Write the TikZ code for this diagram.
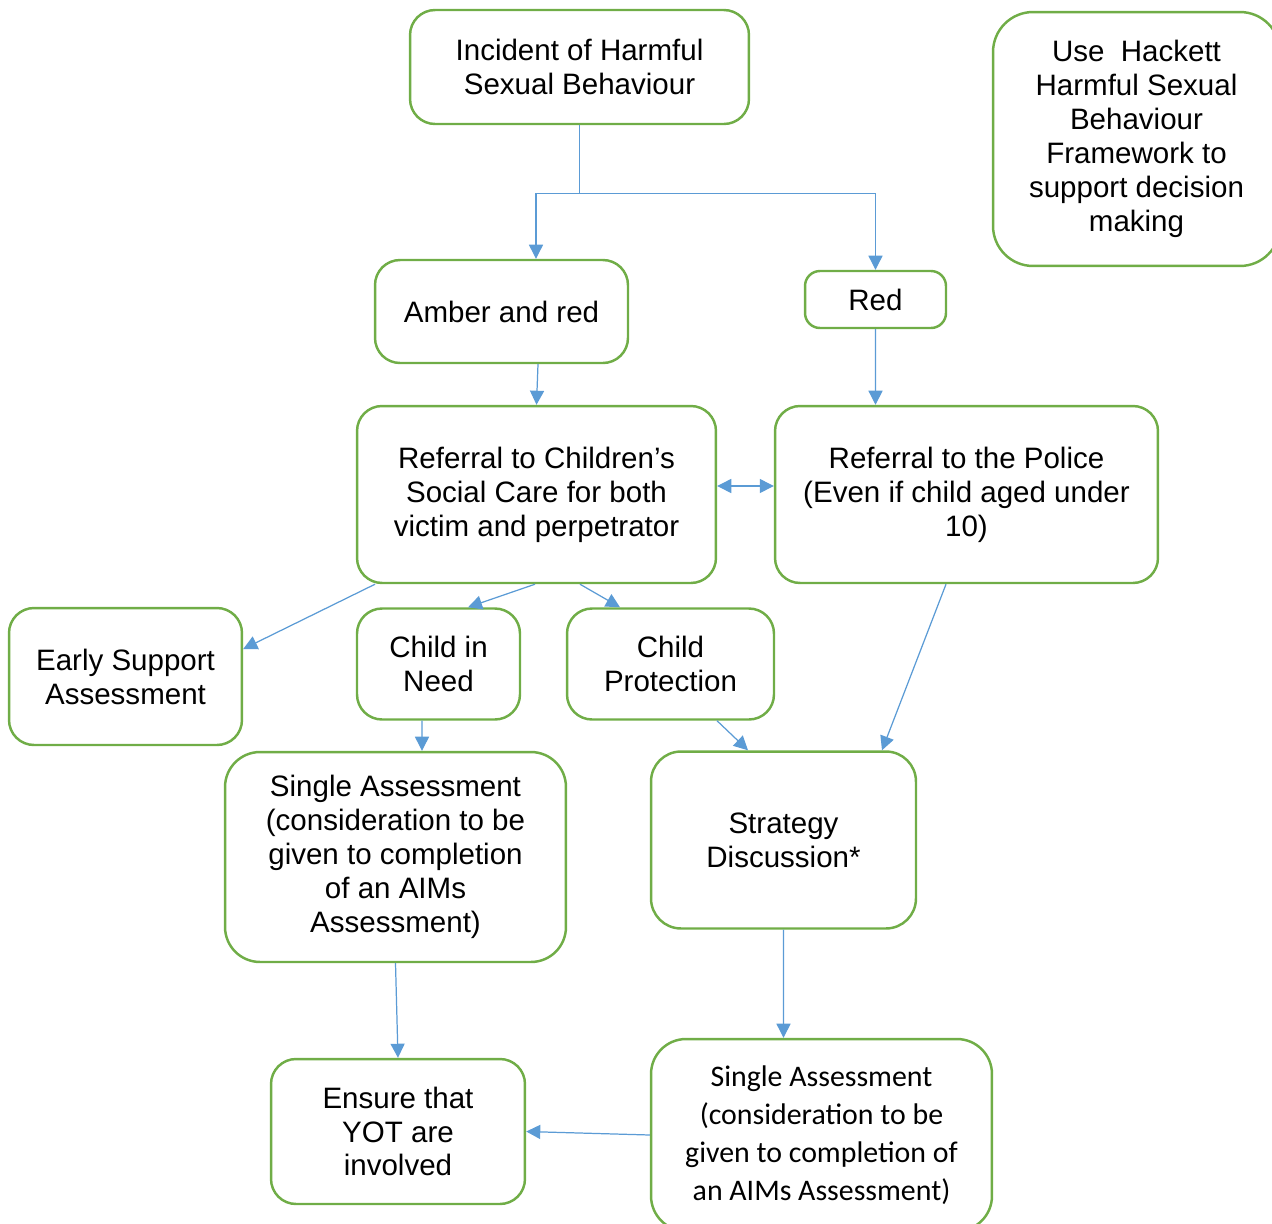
\documentclass[tikz,border=0pt]{standalone}
\usepackage{fontspec}
\setmainfont{Liberation Sans}
\newfontfamily\calfont{Carlito}
\usetikzlibrary{arrows.meta,positioning,calc}
\definecolor{boxgreen}{HTML}{70AD47}
\definecolor{linkblue}{HTML}{5B9BD5}

\begin{document}
\begin{tikzpicture}[x=0.02cm,y=-0.02cm,
    box/.style={draw=boxgreen,line width=1.4pt,rounded corners=0.5cm,align=center,
      inner sep=0pt,font=\fontsize{16.8}{19.3}\selectfont},
    link/.style={draw=linkblue,line width=0.7pt,-{Triangle[width=8pt,length=8pt]}},
    both/.style={link,{Triangle[width=8pt,length=8pt]}-{Triangle[width=8pt,length=8pt]}}]
    \useasboundingbox (0,0) rectangle (1272,1224);
    % top row
    \node[box,minimum width=6.78cm,minimum height=2.28cm] (inc) at (579.5,67) {Incident of Harmful\\Sexual Behaviour};
    \node[box,rounded corners=0.8cm,minimum width=5.74cm,minimum height=5.08cm] (hack) at (1136.5,139)
      {Use\ \ Hackett\\Harmful Sexual\\Behaviour\\Framework to\\support decision\\making};
    \node[box,minimum width=5.06cm,minimum height=2.06cm] (amb) at (501.5,311.5) {Amber and red};
    \node[box,rounded corners=0.3cm,minimum width=2.82cm,minimum height=1.14cm] (red) at (875.5,299.5) {Red};
    % referrals
    \node[box,minimum width=7.18cm,minimum height=3.54cm] (csc) at (536.5,494.5)
      {Referral to Children’s\\Social Care for both\\victim and perpetrator};
    \node[box,minimum width=7.66cm,minimum height=3.54cm] (pol) at (966.5,494.5)
      {Referral to the Police\\(Even if child aged under\\10)};
    % outcomes
    \node[box,minimum width=4.66cm,minimum height=2.74cm] (early) at (125.5,676.5) {Early Support\\Assessment};
    \node[box,minimum width=3.26cm,minimum height=2.22cm] (cin) at (438.5,664) {Child in\\Need};
    \node[box,minimum width=4.14cm,minimum height=2.22cm] (cp) at (670.5,664) {Child\\Protection};
    \node[box,rounded corners=0.7cm,minimum width=6.82cm,minimum height=4.2cm] (sal) at (395.5,857)
      {Single Assessment\\(consideration to be\\given to completion\\of an AIMs\\Assessment)};
    \node[box,rounded corners=0.6cm,minimum width=5.3cm,minimum height=3.54cm] (str) at (783.5,840) {Strategy\\Discussion*};
    \node[box,minimum width=5.08cm,minimum height=2.9cm] (yot) at (398,1131.5) {Ensure that\\YOT are\\involved};
    \node[box,rounded corners=0.7cm,minimum width=6.82cm,minimum height=3.84cm,
      font=\calfont\fontsize{17.0}{21.7}\selectfont] (sar) at (821.5,1135)
      {Single Assessment\\(consideration to be\\given to completion of\\an AIMs Assessment)};
    % connectors
    \draw[link] (inc.south) -- ++(0,68) coordinate (fork) -| ([xshift=0.69cm]amb.north);
    \draw[link] (fork) -| (red.north);
    \draw[link] ([xshift=0.73cm]amb.south) -- (csc.north);
    \draw[link] (red.south) -- ([xshift=-1.82cm]pol.north);
    \draw[both] ([yshift=0.17cm]csc.east) -- ([yshift=0.17cm]pol.west);
    \draw[link] ([xshift=-3.23cm]csc.south) -- ([yshift=0.55cm]early.east);
    \draw[link] ([xshift=-0.03cm]csc.south) -- ([xshift=0.59cm]cin.north);
    \draw[link] ([xshift=0.87cm]csc.south) -- ([xshift=-1.01cm]cp.north);
    \draw[link] ([xshift=-0.41cm]pol.south) -- ([xshift=1.97cm]str.north);
    \draw[link] ([xshift=-0.33cm]cin.south) -- ([xshift=0.53cm]sal.north);
    \draw[link] ([xshift=0.93cm]cp.south) -- ([xshift=-0.71cm]str.north);
    \draw[link] (sal.south) -- (yot.north);
    \draw[link] (str.south) -- ([xshift=-0.76cm]sar.north);
    \draw[link] (sar.west) -- (yot.east);
\end{tikzpicture}
\end{document}
